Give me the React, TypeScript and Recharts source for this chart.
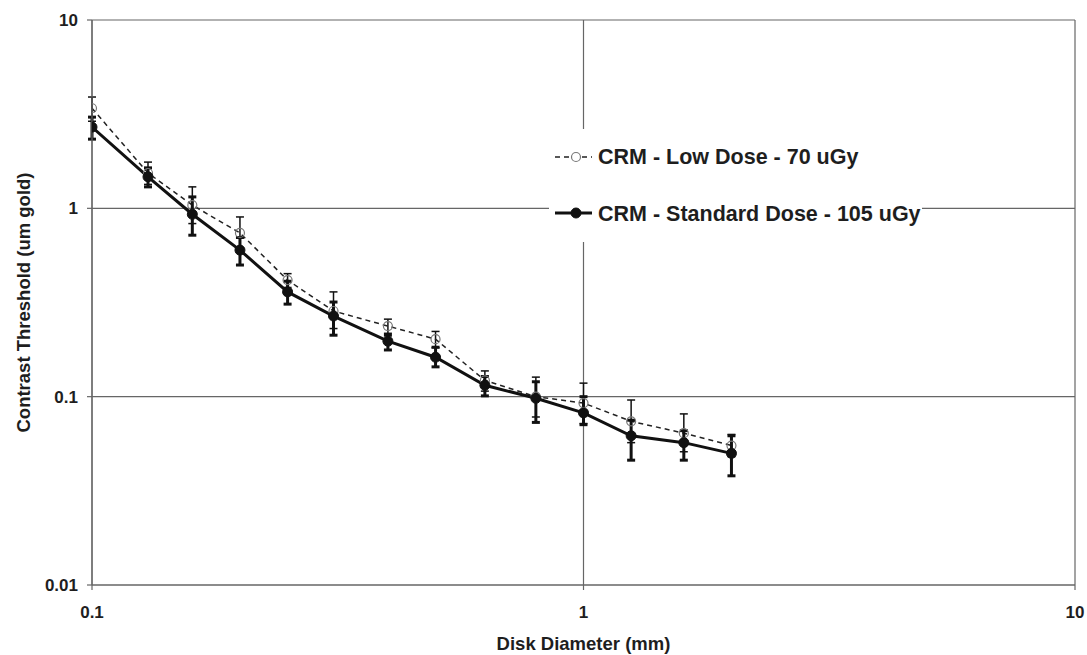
import React from 'react';
import { LineChart, Line, XAxis, YAxis, CartesianGrid, ErrorBar, Legend } from 'recharts';

// Disk diameters (mm)
const diameters = [0.1, 0.13, 0.16, 0.2, 0.25, 0.31, 0.4, 0.5, 0.63, 0.8, 1.0, 1.25, 1.6, 2.0];

// CRM - Low Dose - 70 uGy (um gold)
const lowDose = [3.4, 1.54, 1.04, 0.74, 0.416, 0.285, 0.237, 0.202, 0.122, 0.1, 0.0925, 0.074, 0.064, 0.055];
const lowDoseUpper = [3.9, 1.76, 1.3, 0.9, 0.45, 0.36, 0.258, 0.222, 0.137, 0.127, 0.118, 0.096, 0.081, 0.063];
const lowDoseLower = [2.9, 1.34, 0.83, 0.6, 0.38, 0.23, 0.217, 0.182, 0.107, 0.078, 0.072, 0.057, 0.051, 0.048];

// CRM - Standard Dose - 105 uGy (um gold)
const stdDose = [2.7, 1.47, 0.93, 0.6, 0.36, 0.268, 0.197, 0.162, 0.115, 0.098, 0.082, 0.062, 0.057, 0.05];
const stdDoseUpper = [3.05, 1.64, 1.15, 0.7, 0.41, 0.318, 0.212, 0.183, 0.128, 0.12, 0.1, 0.075, 0.066, 0.062];
const stdDoseLower = [2.33, 1.3, 0.72, 0.5, 0.31, 0.212, 0.177, 0.144, 0.101, 0.073, 0.071, 0.046, 0.046, 0.038];

const xTicks = [0.1, 1, 10];
const yTicks = [0.01, 0.1, 1, 10];

const lowLabel = 'CRM - Low Dose - 70 uGy';
const stdLabel = 'CRM - Standard Dose - 105 uGy';
const xTitle = 'Disk Diameter (mm)';
const yTitle = 'Contrast Threshold (um gold)';

const data = diameters.map((d, i) => ({
  d,
  low: lowDose[i],
  lowErr: [lowDose[i] - lowDoseLower[i], lowDoseUpper[i] - lowDose[i]],
  std: stdDose[i],
  stdErr: [stdDose[i] - stdDoseLower[i], stdDoseUpper[i] - stdDose[i]],
}));

const FONT = '"Liberation Sans", Arial, Helvetica, sans-serif';
const TEXT = '#1e1e1e';
const GRID = '#666666';

const fmt = (v: number) => String(v);

const LegendBox = () => (
  <svg width={373} height={113} style={{ display: 'block' }}>
    <line x1={6} y1={28} x2={43} y2={28} stroke="#222" strokeWidth={1.5} strokeDasharray="5 4" />
    <circle cx={27} cy={28} r={4.5} fill="#fff" stroke="#777" strokeWidth={1.2} />
    <text x={49} y={35} fontFamily={FONT} fontWeight="bold" fontSize={21.5} fill={TEXT}>{lowLabel}</text>
    <line x1={6} y1={84} x2={43} y2={84} stroke="#111" strokeWidth={3} />
    <circle cx={27} cy={84} r={5} fill="#111" stroke="#111" />
    <text x={49} y={92} fontFamily={FONT} fontWeight="bold" fontSize={21.5} fill={TEXT}>{stdLabel}</text>
  </svg>
);

export default function App() {
  return (
    <div style={{ position: 'absolute', left: 0, top: 0, width: 1087, height: 655, background: '#fff' }}>
      <LineChart
        width={1087}
        height={655}
        data={data}
        margin={{ top: 20, right: 12, bottom: 0, left: 0 }}
      >
        <CartesianGrid stroke={GRID} strokeWidth={1.2} />
        <XAxis
          dataKey="d"
          type="number"
          scale="log"
          domain={[0.1, 10]}
          ticks={xTicks}
          allowDataOverflow
          height={70}
          stroke={GRID}
          strokeWidth={1.2}
          tickSize={5}
          tickMargin={16}
          tickFormatter={fmt}
          tick={{ fill: TEXT, fontSize: 17, fontWeight: 'bold', fontFamily: FONT }}
          label={{ value: xTitle, position: 'insideBottom', offset: 5, fill: TEXT, fontSize: 18.5, fontWeight: 'bold', fontFamily: FONT }}
        />
        <YAxis
          type="number"
          scale="log"
          domain={[0.01, 10]}
          ticks={yTicks}
          allowDataOverflow
          width={92}
          stroke={GRID}
          strokeWidth={1.2}
          tickSize={5}
          tickMargin={9}
          tickFormatter={fmt}
          tick={{ fill: TEXT, fontSize: 17, fontWeight: 'bold', fontFamily: FONT }}
          label={{
            content: (props: any) => {
              const vb = props.viewBox || { x: 0, y: 20, width: 92, height: 565 };
              const cx = vb.x + 23;
              const cy = vb.y + vb.height / 2;
              return (
                <text
                  x={cx}
                  y={cy}
                  transform={`rotate(-90, ${cx}, ${cy})`}
                  textAnchor="middle"
                  dominantBaseline="central"
                  fill={TEXT}
                  fontSize={18.5}
                  fontWeight="bold"
                  fontFamily={FONT}
                >
                  {yTitle}
                </text>
              );
            },
          }}
        />
        <Legend
          layout="horizontal"
          verticalAlign="middle"
          align="center"
          content={() => <LegendBox />}
          wrapperStyle={{ left: 549, top: 129, width: 373, height: 113, background: '#fff' }}
        />
        <Line
          type="linear"
          dataKey="low"
          name={lowLabel}
          stroke="#222"
          strokeWidth={1.5}
          strokeDasharray="5 4"
          dot={{ r: 4.5, stroke: '#777', strokeWidth: 1.2, fill: 'none', strokeDasharray: '' }}
          activeDot={false}
          isAnimationActive={false}
        >
          <ErrorBar dataKey="lowErr" direction="y" width={4} stroke="#111" strokeWidth={1.5} />
        </Line>
        <Line
          type="linear"
          dataKey="std"
          name={stdLabel}
          stroke="#111"
          strokeWidth={3}
          dot={{ r: 5, stroke: '#111', strokeWidth: 1, fill: '#111' }}
          activeDot={false}
          isAnimationActive={false}
        >
          <ErrorBar dataKey="stdErr" direction="y" width={4} stroke="#111" strokeWidth={3} />
        </Line>
      </LineChart>
    </div>
  );
}
